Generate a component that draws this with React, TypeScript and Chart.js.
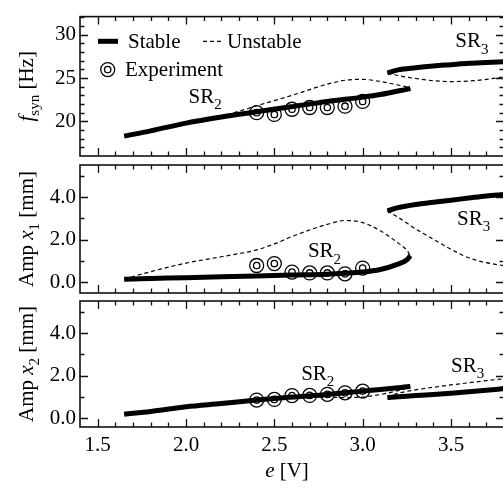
import React, { useEffect, useRef } from 'react';
import { Chart, registerables } from 'chart.js';
Chart.register(...registerables);

// ---------- axes / ticks ----------
const eMin = 1.4;
const eMax = 3.8;
const eMajorTicks = [1.5, 2.0, 2.5, 3.0, 3.5];
const eMinorTicks = [1.5, 1.6, 1.7, 1.8, 1.9, 2.0, 2.1, 2.2, 2.3, 2.4, 2.5, 2.6, 2.7, 2.8, 2.9, 3.0, 3.1, 3.2, 3.3, 3.4, 3.5, 3.6, 3.7, 3.8];
const fMin = 16;
const fMax = 32.1;
const fMajorTicks = [20, 25, 30];
const fMinorTicks = [17, 18, 19, 20, 21, 22, 23, 24, 25, 26, 27, 28, 29, 30, 31, 32];
const amp1Min = -0.5;
const amp1Max = 5.5;
const amp2Min = -0.4;
const amp2Max = 5.5;
const ampMajorTicks = [0, 2, 4];
const ampMinorTicks = [0, 1, 2, 3, 4, 5];

// ---------- experiment ----------
const expE = [2.4, 2.5, 2.6, 2.7, 2.8, 2.9, 3.0];
const expF = [21.0, 20.8, 21.4, 21.6, 21.6, 21.75, 22.3];
const expAmp1 = [0.79, 0.88, 0.48, 0.44, 0.44, 0.4, 0.67];
const expAmp2 = [0.86, 0.89, 1.07, 1.08, 1.13, 1.2, 1.28];

// ---------- SR2 branch ----------
const sr2StableE = [1.65, 1.8, 2.0, 2.2, 2.4, 2.6, 2.8, 3.0, 3.1, 3.2, 3.25, 3.27];
const sr2StableF = [18.3, 18.9, 19.8, 20.5, 21.1, 21.7, 22.3, 22.8, 23.1, 23.5, 23.7, 23.8];
const sr2StableAmp1 = [0.15, 0.18, 0.22, 0.26, 0.3, 0.34, 0.38, 0.48, 0.6, 0.85, 1.05, 1.25];
const sr2StableAmp2 = [0.2, 0.33, 0.55, 0.7, 0.86, 1.0, 1.12, 1.28, 1.36, 1.44, 1.48, 1.5];

const sr2UnstableE = [1.65, 1.8, 2.0, 2.2, 2.4, 2.5, 2.6, 2.8, 2.9, 3.0, 3.1, 3.2, 3.25, 3.27];
const sr2UnstableF = [18.3, 18.95, 19.85, 20.6, 21.8, 22.4, 23.0, 24.3, 24.75, 24.85, 24.6, 24.2, 23.95, 23.8];
const sr2UnstableAmp1 = [0.15, 0.5, 0.9, 1.2, 1.52, 1.8, 2.15, 2.72, 2.9, 2.8, 2.42, 1.85, 1.5, 1.25];
const sr2UnstableAmp2 = [0.2, 0.33, 0.55, 0.7, 0.85, 0.92, 0.97, 0.99, 0.98, 1.0, 1.12, 1.3, 1.42, 1.5];

// ---------- SR3 branch ----------
const sr3StableE = [3.14, 3.2, 3.3, 3.4, 3.5, 3.6, 3.7, 3.8];
const sr3StableF = [25.6, 25.95, 26.2, 26.4, 26.55, 26.7, 26.8, 26.9];
const sr3StableAmp1 = [3.35, 3.5, 3.65, 3.75, 3.85, 3.95, 4.05, 4.12];
const sr3StableAmp2 = [0.98, 1.02, 1.07, 1.12, 1.18, 1.25, 1.32, 1.4];

const sr3UnstableE = [3.14, 3.2, 3.25, 3.3, 3.4, 3.5, 3.6, 3.7, 3.8];
const sr3UnstableF = [25.55, 25.3, 25.1, 24.95, 24.7, 24.6, 24.65, 24.85, 25.15];
const sr3UnstableAmp1 = [3.35, 3.05, 2.78, 2.5, 2.02, 1.55, 1.15, 0.92, 0.78];
const sr3UnstableAmp2 = [0.98, 1.18, 1.27, 1.34, 1.46, 1.57, 1.67, 1.77, 1.86];

const FONT = '"Liberation Serif", "Times New Roman", serif';
const FS = 21;

type Run = { t: string; italic?: boolean; sub?: boolean };

function runFont(r: Run, size: number) {
  const s = r.sub ? Math.round(size * 0.7) : size;
  return `${r.italic ? 'italic ' : ''}${s}px ${FONT}`;
}

function drawRuns(ctx: CanvasRenderingContext2D, runs: Run[], x: number, y: number, size: number, align: 'left' | 'center') {
  let w = 0;
  runs.forEach((r) => {
    ctx.font = runFont(r, size);
    w += ctx.measureText(r.t).width;
  });
  let cx = align === 'center' ? x - w / 2 : x;
  ctx.textAlign = 'left';
  ctx.textBaseline = 'alphabetic';
  runs.forEach((r) => {
    ctx.font = runFont(r, size);
    ctx.fillText(r.t, cx, y + (r.sub ? size * 0.3 : 0));
    cx += ctx.measureText(r.t).width;
  });
}

const pts = (xs: number[], ys: number[]) => xs.map((x, i) => ({ x, y: ys[i] }));

const stableDs = (data: any[]) => ({
  data,
  borderColor: '#000',
  borderWidth: 5,
  pointRadius: 0,
  fill: false,
  cubicInterpolationMode: 'monotone',
  order: 1,
});
const unstableDs = (data: any[]) => ({
  data,
  borderColor: '#000',
  borderWidth: 1.2,
  borderDash: [4, 3],
  pointRadius: 0,
  fill: false,
  cubicInterpolationMode: 'monotone',
  order: 2,
});
const expDs = (data: any[], r: number) => ({
  data,
  showLine: false,
  pointRadius: r,
  pointBorderWidth: 1.3,
  pointBorderColor: '#000',
  pointBackgroundColor: 'rgba(0,0,0,0)',
  order: 0,
});

type Annot = { e: number; v: number; runs: Run[] };

type PanelSpec = {
  top: number;
  bottom: number;
  showX: boolean;
  yMin: number;
  yMax: number;
  yMajor: number[];
  yMinor: number[];
  yDigits: number;
  datasets: any[];
  title: Run[];
  annots: Annot[];
  legend?: boolean;
  xTitle?: boolean;
};

function makePanel(canvas: HTMLCanvasElement, p: PanelSpec) {
  const deco = {
    id: 'deco',
    afterDraw(chart: any) {
      const ctx: CanvasRenderingContext2D = chart.ctx;
      const { left, right, top, bottom } = chart.chartArea;
      const xs = chart.scales.x;
      const ys = chart.scales.y;
      ctx.save();
      ctx.strokeStyle = '#111';
      ctx.fillStyle = '#000';
      ctx.lineWidth = 1.3;
      ctx.setLineDash([]);
      const major = 8;
      const minor = 4.5;
      eMinorTicks.forEach((v) => {
        const px = Math.round(xs.getPixelForValue(v)) + 0.5;
        const len = eMajorTicks.some((m) => Math.abs(m - v) < 1e-6) ? major : minor;
        ctx.beginPath();
        ctx.moveTo(px, bottom);
        ctx.lineTo(px, bottom - len);
        ctx.moveTo(px, top);
        ctx.lineTo(px, top + len);
        ctx.stroke();
      });
      p.yMinor.forEach((v) => {
        const py = Math.round(ys.getPixelForValue(v)) + 0.5;
        const len = p.yMajor.some((m) => Math.abs(m - v) < 1e-6) ? major : minor;
        ctx.beginPath();
        ctx.moveTo(left, py);
        ctx.lineTo(left + len, py);
        ctx.moveTo(right, py);
        ctx.lineTo(right - len, py);
        ctx.stroke();
      });
      ctx.lineWidth = 1.6;
      ctx.strokeRect(left, top, right - left, bottom - top);

      // y title
      ctx.save();
      ctx.translate(33, (top + bottom) / 2);
      ctx.rotate(-Math.PI / 2);
      drawRuns(ctx, p.title, 0, 0, FS, 'center');
      ctx.restore();

      // annotations
      p.annots.forEach((a) => {
        drawRuns(ctx, a.runs, xs.getPixelForValue(a.e), ys.getPixelForValue(a.v), FS, 'left');
      });

      if (p.legend) {
        const ly1 = top + 24.7;
        ctx.strokeStyle = '#000';
        ctx.lineWidth = 5;
        ctx.beginPath();
        ctx.moveTo(left + 18, ly1);
        ctx.lineTo(left + 38, ly1);
        ctx.stroke();
        drawRuns(ctx, [{ t: 'Stable' }], left + 48, top + 31.3, FS, 'left');
        ctx.lineWidth = 1.2;
        ctx.setLineDash([4, 3]);
        ctx.beginPath();
        ctx.moveTo(left + 123, ly1);
        ctx.lineTo(left + 143, ly1);
        ctx.stroke();
        ctx.setLineDash([]);
        drawRuns(ctx, [{ t: 'Unstable' }], left + 147, top + 31.3, FS, 'left');
        ctx.lineWidth = 1.3;
        ctx.beginPath();
        ctx.arc(left + 27.7, top + 53, 7, 0, Math.PI * 2);
        ctx.stroke();
        ctx.beginPath();
        ctx.arc(left + 27.7, top + 53, 3.2, 0, Math.PI * 2);
        ctx.stroke();
        drawRuns(ctx, [{ t: 'Experiment' }], left + 45, top + 59.7, FS, 'left');
      }

      if (p.xTitle) {
        drawRuns(ctx, [{ t: 'e', italic: true }, { t: ' [V]' }], left + 207, 477, FS, 'center');
      }
      ctx.restore();
    },
  };

  return new Chart(canvas, {
    type: 'line',
    data: { datasets: p.datasets },
    options: {
      responsive: false,
      animation: false,
      events: [],
      layout: { autoPadding: false, padding: { left: 0, right: 1, top: p.top, bottom: p.bottom } },
      plugins: { legend: { display: false }, tooltip: { enabled: false } },
      scales: {
        x: {
          type: 'linear',
          min: eMin,
          max: eMax,
          display: p.showX,
          position: 'bottom',
          grid: { display: false, drawTicks: false },
          border: { display: false },
          ticks: {
            font: { family: FONT, size: FS },
            color: '#000',
            padding: 6,
            maxRotation: 0,
            autoSkip: false,
            callback: (v: any) => Number(v).toFixed(1),
          },
          afterBuildTicks: (s: any) => {
            s.ticks = eMajorTicks.map((v) => ({ value: v }));
          },
          afterFit: (s: any) => {
            s.height = p.showX ? 61 : 0;
          },
        },
        y: {
          type: 'linear',
          min: p.yMin,
          max: p.yMax,
          grid: { display: false, drawTicks: false },
          border: { display: false },
          ticks: {
            font: { family: FONT, size: FS },
            color: '#000',
            padding: 4,
            autoSkip: false,
            callback: (v: any) => Number(v).toFixed(p.yDigits),
          },
          afterBuildTicks: (s: any) => {
            s.ticks = p.yMajor.map((v) => ({ value: v }));
          },
          afterFit: (s: any) => {
            s.width = 80;
          },
        },
      },
    } as any,
    plugins: [deco],
  } as any);
}

const sub = (t: string): Run => ({ t, sub: true });

export default function App() {
  const c1 = useRef<HTMLCanvasElement>(null);
  const c2 = useRef<HTMLCanvasElement>(null);
  const c3 = useRef<HTMLCanvasElement>(null);

  useEffect(() => {
    const charts: Chart[] = [];
    charts.push(
      makePanel(c1.current!, {
        top: 7,
        bottom: 332,
        showX: false,
        yMin: fMin,
        yMax: fMax,
        yMajor: fMajorTicks,
        yMinor: fMinorTicks,
        yDigits: 0,
        datasets: [
          unstableDs(pts(sr2UnstableE, sr2UnstableF)),
          unstableDs(pts(sr3UnstableE, sr3UnstableF)),
          stableDs(pts(sr2StableE, sr2StableF)),
          stableDs(pts(sr3StableE, sr3StableF)),
          expDs(pts(expE, expF), 7),
          expDs(pts(expE, expF), 3.2),
        ],
        title: [{ t: 'f', italic: true }, sub('syn'), { t: ' [Hz]' }],
        annots: [
          { e: 2.014, v: 22.14, runs: [{ t: 'SR' }, sub('2')] },
          { e: 3.524, v: 28.55, runs: [{ t: 'SR' }, sub('3')] },
        ],
        legend: true,
      })
    );
    charts.push(
      makePanel(c2.current!, {
        top: 165,
        bottom: 195,
        showX: false,
        yMin: amp1Min,
        yMax: amp1Max,
        yMajor: ampMajorTicks,
        yMinor: ampMinorTicks,
        yDigits: 1,
        datasets: [
          unstableDs(pts(sr2UnstableE, sr2UnstableAmp1)),
          unstableDs(pts(sr3UnstableE, sr3UnstableAmp1)),
          stableDs(pts(sr2StableE, sr2StableAmp1)),
          stableDs(pts(sr3StableE, sr3StableAmp1)),
          expDs(pts(expE, expAmp1), 7),
          expDs(pts(expE, expAmp1), 3.2),
        ],
        title: [{ t: 'Amp ' }, { t: 'x', italic: true }, sub('1'), { t: ' [mm]' }],
        annots: [
          { e: 2.69, v: 1.17, runs: [{ t: 'SR' }, sub('2')] },
          { e: 3.534, v: 2.69, runs: [{ t: 'SR' }, sub('3')] },
        ],
      })
    );
    charts.push(
      makePanel(c3.current!, {
        top: 301,
        bottom: 0,
        showX: true,
        yMin: amp2Min,
        yMax: amp2Max,
        yMajor: ampMajorTicks,
        yMinor: ampMinorTicks,
        yDigits: 1,
        datasets: [
          unstableDs(pts(sr2UnstableE, sr2UnstableAmp2)),
          unstableDs(pts(sr3UnstableE, sr3UnstableAmp2)),
          stableDs(pts(sr2StableE, sr2StableAmp2)),
          stableDs(pts(sr3StableE, sr3StableAmp2)),
          expDs(pts(expE, expAmp2), 7),
          expDs(pts(expE, expAmp2), 3.2),
        ],
        title: [{ t: 'Amp ' }, { t: 'x', italic: true }, sub('2'), { t: ' [mm]' }],
        annots: [
          { e: 2.652, v: 1.8, runs: [{ t: 'SR' }, sub('2')] },
          { e: 3.5, v: 2.19, runs: [{ t: 'SR' }, sub('3')] },
        ],
        xTitle: true,
      })
    );
    return () => charts.forEach((c) => c.destroy());
  }, []);

  const cs: React.CSSProperties = { position: 'absolute', left: 0, top: 0, width: 505, height: 488 };
  return (
    <div style={{ position: 'fixed', left: 0, top: 0, width: 503, height: 488, overflow: 'hidden', background: '#fff' }}>
      <canvas ref={c1} width={505} height={488} style={cs} />
      <canvas ref={c2} width={505} height={488} style={cs} />
      <canvas ref={c3} width={505} height={488} style={cs} />
    </div>
  );
}
